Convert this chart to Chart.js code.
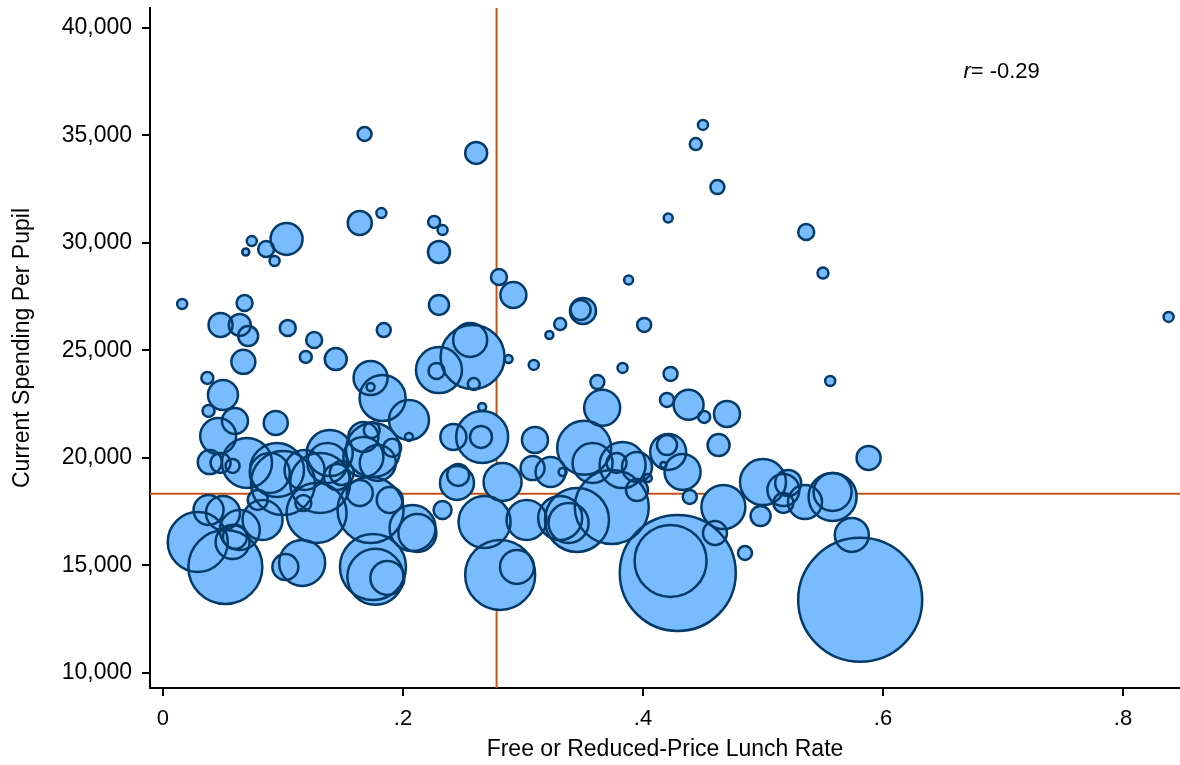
<!DOCTYPE html>
<html>
<head>
<meta charset="utf-8">
<script src="https://cdn.jsdelivr.net/npm/chart.js@4.4.1/dist/chart.umd.min.js"></script>
<style>
  body { margin: 0; background: #fff; }
  #wrap { width: 1180px; height: 765px; }
</style>
</head>
<body>
<div id="wrap"><canvas id="chart" width="1180" height="765"></canvas></div>
<script>
// free or reduced-price lunch rate (x), spending per pupil (y), enrollment (bubble weight)
var lunchRate = [
  0.168, 0.261, 0.450, 0.444, 0.462, 0.421, 0.536, 0.550, 0.388, 0.838,
  0.103, 0.074, 0.086, 0.069, 0.093, 0.016, 0.068, 0.164, 0.182, 0.226,
  0.233, 0.230, 0.280, 0.292, 0.230, 0.184, 0.048, 0.064, 0.071, 0.104,
  0.126, 0.119, 0.144, 0.067, 0.037, 0.050, 0.038, 0.060, 0.094, 0.046,
  0.039, 0.058, 0.070, 0.139, 0.095, 0.118, 0.137, 0.149, 0.048, 0.089,
  0.100, 0.079, 0.083, 0.131, 0.128, 0.145, 0.117, 0.038, 0.050, 0.029,
  0.052, 0.060, 0.058, 0.064, 0.116, 0.102, 0.245, 0.246, 0.233, 0.268,
  0.283, 0.303, 0.281, 0.295, 0.175, 0.177, 0.187, 0.173, 0.208, 0.212,
  0.173, 0.173, 0.183, 0.205, 0.205, 0.242, 0.266, 0.265, 0.266, 0.256,
  0.258, 0.230, 0.228, 0.259, 0.288, 0.309, 0.167, 0.174, 0.175, 0.167,
  0.191, 0.179, 0.310, 0.308, 0.350, 0.348, 0.331, 0.322, 0.401, 0.383,
  0.423, 0.362, 0.366, 0.420, 0.438, 0.451, 0.470, 0.463, 0.421, 0.420,
  0.433, 0.417, 0.351, 0.358, 0.383, 0.378, 0.395, 0.323, 0.333, 0.404,
  0.556, 0.588, 0.500, 0.517, 0.521, 0.517, 0.535, 0.558, 0.558, 0.498,
  0.467, 0.460, 0.439, 0.485, 0.574, 0.581, 0.429, 0.423, 0.395, 0.374,
  0.345, 0.331, 0.338, 0.189, 0.164
];
var spending = [
  35070, 34190, 35490, 34600, 32600, 31160, 30510, 28600, 28280, 26560,
  30190, 30090, 29720, 29580, 29160, 27160, 27210, 30930, 31390, 30980,
  30600, 29580, 28420, 27580, 27120, 25950, 26190, 26190, 25670, 26050,
  25490, 24700, 24600, 24470, 23720, 22930, 22190, 21720, 21630, 21020,
  19810, 19630, 19770, 20230, 19440, 19440, 19770, 19300, 19770, 19300,
  18840, 18050, 17120, 18840, 17440, 19120, 17910, 17580, 17440, 16090,
  14930, 16330, 16090, 16650, 15120, 14930, 18840, 19210, 17580, 17020,
  18880, 17120, 14560, 14930, 14930, 14470, 14420, 17580, 16740, 16510,
  23720, 23300, 22790, 21770, 20980, 20980, 20980, 20980, 22370, 25490,
  24700, 24090, 24050, 23440, 24600, 24330, 20980, 21300, 20370, 20050,
  20470, 19770, 20840, 19530, 26840, 26880, 26230, 25720, 26190, 24190,
  23910, 23530, 22330, 22700, 22470, 21910, 22050, 20600, 20280, 20600,
  19350, 19670, 20470, 19770, 19670, 19770, 19580, 19350, 19350, 19070,
  23580, 20000, 18880, 18510, 18840, 17910, 17950, 18190, 18420, 17300,
  17720, 16510, 18190, 15580, 16420, 13400, 14650, 15210, 18510, 17720,
  17120, 17210, 16980, 18050, 18370
];
var enrollment = [
  980, 2420, 500, 720, 980, 400, 1280, 600, 400, 500,
  5120, 500, 1280, 250, 500, 500, 1280, 2880, 500, 720,
  500, 2420, 1280, 3380, 2000, 980, 2880, 2420, 2000, 1280,
  1280, 720, 2420, 2880, 720, 4500, 720, 3380, 2880, 6480,
  2880, 980, 12500, 10580, 14580, 8000, 8000, 2880, 2000, 8000,
  20480, 2000, 8000, 18000, 18000, 3380, 1280, 4500, 5780, 18000,
  27380, 2880, 5780, 8000, 10580, 3380, 5780, 2420, 1620, 13520,
  7220, 8000, 24500, 5780, 21780, 15680, 5780, 21780, 10580, 7220,
  5780, 320, 10580, 8000, 320, 3380, 13520, 2420, 320, 5780,
  20480, 10580, 1280, 720, 320, 500, 4500, 1280, 14580, 8000,
  1620, 6480, 3380, 2880, 3380, 2000, 720, 320, 980, 500,
  980, 980, 6480, 980, 4500, 720, 3380, 2420, 6480, 2000,
  6480, 180, 14580, 8000, 10580, 2000, 4500, 4500, 320, 320,
  500, 2880, 10580, 5120, 3380, 2000, 5780, 11520, 7220, 2000,
  9680, 2880, 980, 980, 5780, 76880, 67280, 25920, 2420, 27380,
  20480, 9680, 8000, 3380, 3380
];

var xTicks = [0, 0.2, 0.4, 0.6, 0.8];
var yTicks = [10000, 15000, 20000, 25000, 30000, 35000, 40000];
var meanRate = 0.278;      // vertical reference line
var meanSpending = 18330;  // horizontal reference line
var corrText = '-0.29';
var corrAt = { x: 0.667, y: 37950 };

var points = lunchRate.map(function(v, i) {
  return { x: v, y: spending[i] };
});

function bubbleRadius(ctx) {
  return Math.sqrt(enrollment[ctx.dataIndex] / 20);
}

var xMin = -0.0108, xMax = 0.8475, yMin = 9300, yMax = 40930;

var corrLabel = {
  id: 'corrLabel',
  afterDraw: function(chart) {
    var c = chart.ctx;
    var px = chart.scales.x.getPixelForValue(corrAt.x);
    var py = chart.scales.y.getPixelForValue(corrAt.y);
    c.save();
    c.fillStyle = '#000';
    c.textBaseline = 'middle';
    c.textAlign = 'left';
    c.font = 'italic 22px "Liberation Sans", Arial, sans-serif';
    c.fillText('r', px, py);
    var w = c.measureText('r').width;
    c.font = '22px "Liberation Sans", Arial, sans-serif';
    c.fillText('= ' + corrText, px + w, py);
    c.restore();
  }
};

var axisStyle = {
  grid: { display: true, drawOnChartArea: false, drawTicks: true, tickLength: 8, color: '#000', lineWidth: 2 },
  border: { display: true, color: '#000', width: 2 }
};

new Chart(document.getElementById('chart'), {
  type: 'bubble',
  data: {
    datasets: [
      {
        type: 'line',
        data: [{ x: meanRate, y: yMin }, { x: meanRate, y: yMax }],
        borderColor: '#c4531a',
        borderWidth: 2,
        pointRadius: 0,
        order: 3
      },
      {
        type: 'line',
        data: [{ x: xMin, y: meanSpending }, { x: xMax, y: meanSpending }],
        borderColor: '#c4531a',
        borderWidth: 2,
        pointRadius: 0,
        order: 3
      },
      {
        // fills first
        data: points,
        backgroundColor: '#78bcfd',
        borderWidth: 0,
        radius: bubbleRadius,
        order: 2
      },
      {
        // outlines on top
        data: points,
        backgroundColor: 'rgba(0,0,0,0)',
        borderColor: '#033a68',
        borderWidth: 2.5,
        radius: bubbleRadius,
        order: 1
      }
    ]
  },
  options: {
    responsive: false,
    animation: false,
    devicePixelRatio: 1,
    events: [],
    layout: { autoPadding: false, padding: { top: 8, right: 0, left: 0, bottom: 0 } },
    plugins: { legend: { display: false }, tooltip: { enabled: false } },
    scales: {
      x: Object.assign({
        type: 'linear',
        min: xMin,
        max: xMax,
        afterBuildTicks: function(s) { s.ticks = xTicks.map(function(v) { return { value: v }; }); },
        afterFit: function(s) { s.height = 77; s.paddingLeft = 0; s.paddingRight = 0; },
        ticks: {
          color: '#000',
          padding: 10,
          maxRotation: 0,
          font: { family: '"Liberation Sans", Arial, sans-serif', size: 22 },
          callback: function(v) { return v === 0 ? '0' : String(Math.round(v * 10) / 10).replace(/^0/, ''); }
        },
        title: {
          display: true,
          text: 'Free or Reduced-Price Lunch Rate',
          color: '#000',
          padding: { top: 0, bottom: 2 },
          font: { family: '"Liberation Sans", Arial, sans-serif', size: 23 }
        }
      }, axisStyle),
      y: Object.assign({
        type: 'linear',
        min: yMin,
        max: yMax,
        afterBuildTicks: function(s) { s.ticks = yTicks.map(function(v) { return { value: v }; }); },
        afterFit: function(s) { s.width = 150; s.paddingTop = 0; s.paddingBottom = 0; },
        ticks: {
          color: '#000',
          padding: 10,
          font: { family: '"Liberation Sans", Arial, sans-serif', size: 23 },
          callback: function(v) { return v.toLocaleString('en-US'); }
        },
        title: {
          display: true,
          text: 'Current Spending Per Pupil',
          color: '#000',
          padding: { top: 9, bottom: 0 },
          font: { family: '"Liberation Sans", Arial, sans-serif', size: 23 }
        }
      }, axisStyle)
    }
  },
  plugins: [corrLabel]
});
</script>
</body>
</html>
